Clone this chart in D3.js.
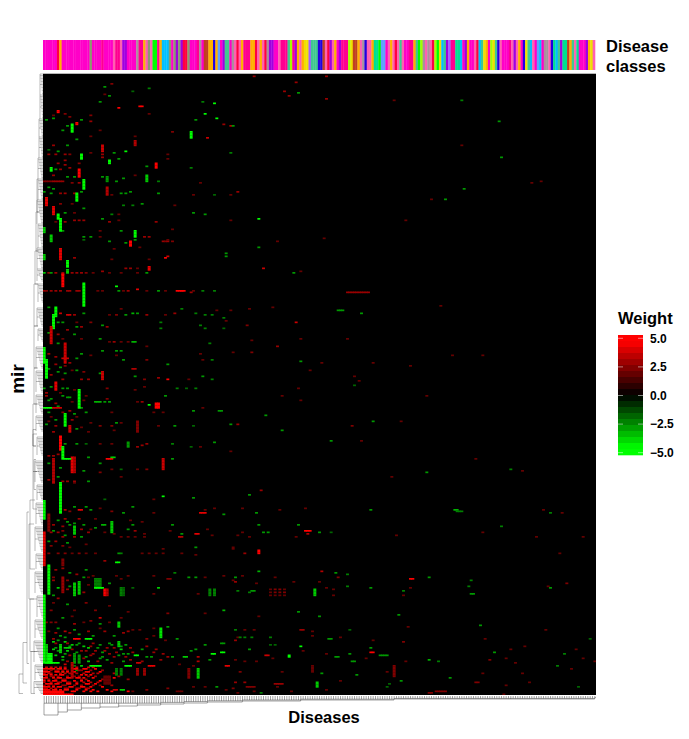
<!DOCTYPE html>
<html><head><meta charset="utf-8">
<script src="https://cdnjs.cloudflare.com/ajax/libs/d3/7.8.5/d3.min.js"></script>
<style>html,body{margin:0;padding:0;background:#fff}svg{display:block}text{font-family:"Liberation Sans",Arial,sans-serif;font-weight:700;fill:#000}</style>
</head><body><svg id="c" width="689" height="739"></svg>
<script>
// Disease class of each column, one letter per disease, read left to right
const classSequence = ("MMMMMMROMMMMMMMMMMMMDMMMMHMMMMKHHKPPMMMMAHHOKDKGGHOCCCDMDPDPRRDMMMHAMEEOOUOBMPTTMAKRKOHHHOORKOKRAPPMMKHHHTLHPOKOYYVTTTUUEKRPKOMPHHHLYEEOKAUKKOSSGBBMKOKRKTKMMHHO"+
 "TGLAKAKRLGYCTPVHHSSCMPOMMKRCTYOMLYTUKMMMHKPKOMUYTCKMBCMAAKUSCTPSSEOTKSMMMPOYK").split("");
const classNames = ["M","H","R","O","Y","L","G","T","S","C","B","U","P","V","K","A","D","E"];
const classColors = ["#ff00c8","#ff0090","#ff0040","#ffb000","#f0e000","#a0ff00","#00ff00","#40c890","#00e090","#00c0ff","#60a0ff","#2000e0","#a000e0","#a060ff","#ff60b0","#a8909c","#8a9a70","#c04020"];

const diseaseCount = 237, mirCount = 414;
const legendValues = [5, 2.5, 0, -2.5, -5];
const legendSteps = d3.range(20);

// Vertical runs: [disease, first mir, last mir, weight]
const verticalRuns = [[12,33,38,-5],[14,32,33,5],[63,38,42,-5],[39,44,47,3.5],[25,47,51,4],[16,53,56,-5],[28,57,59,-5],[48,59,62,5],[3,62,64,-5],[15,63,68,5],[27,68,71,-3],[44,67,71,-4],[17,70,76,-5],[27,75,80,3.5],[14,79,84,-5],[1,82,87,4.5],[4,88,93,4.5],[6,93,96,-5],[7,96,104,-5],[0,102,105,-4],[39,104,108,-5],[3,107,111,-4],[37,111,114,5],[7,116,123,4.5],[0,120,123,-4],[10,124,128,-5],[45,128,130,4.5],[10,130,132,-4],[8,133,141,5],[17,139,154,-5],[5,155,161,-5],[4,160,169,-5],[3,168,179,4],[0,182,192,-5],[9,179,192,4],[1,190,202,-5],[25,198,203,4],[5,205,210,4.5],[15,210,222,-5],[9,226,234,-5],[40,231,238,2.5],[11,234,238,4],[7,241,250,5],[36,245,248,-3],[8,248,256,-5],[12,255,265,4.5],[13,255,265,3.5],[4,256,272,3.5],[51,256,263,4],[7,272,292,-5],[0,284,296,-5],[0,305,327,4.5],[2,293,304,2.5],[2,327,346,-5],[0,347,392,-5],[1,380,392,-4],[29,298,305,-4],[13,301,306,-4],[8,323,327,2.5],[8,335,345,3],[13,339,347,-4],[15,338,346,-4],[22,336,342,-2.5],[23,336,342,-2.5],[24,336,342,-2.5],[26,343,347,5],[27,343,347,3.5],[33,342,347,-2.5],[34,342,347,-2],[71,343,347,-2.5],[73,343,347,-2.5],[32,365,368,-4],[50,369,375,-4.5],[7,380,385,-4],[32,378,381,-4],[13,386,392,-3],[15,387,392,-3],[2,386,392,-5],[3,386,392,-5],[12,392,402,3.5],[31,396,400,-2.5],[33,396,400,-2.5],[40,396,400,3],[43,396,400,3],[66,396,402,-4],[62,396,402,2.5],[26,401,406,2],[27,401,406,2],[28,401,406,2],[116,343,347,-4],[150,394,401,2.5],[115,394,398,2],[92,317,319,5],[105,387,388,-5],[117,405,408,-4],[48,219,222,5],[49,219,222,5]];

// Horizontal runs: [mir, first disease, last disease, weight]
const horizontalRuns = [[21,41,42,5],[160,10,11,4],[144,57,60,5],[178,38,39,-3.5],[189,8,10,4],[196,38,39,3.5],[218,22,24,-3.5],[222,0,3,-5],[222,4,7,4],[224,75,76,-3],[256,9,11,-5],[256,27,29,5],[255,29,30,-4],[290,15,16,4.5],[292,67,69,4.5],[300,25,26,-3.5],[306,65,66,4.5],[308,58,59,3.5],[325,31,32,-5],[336,53,54,2.5],[342,22,25,-5],[376,13,15,5],[376,18,20,-5],[379,76,77,-3],[385,76,77,-5],[386,72,73,-5],[387,39,40,-5],[382,9,11,-4],[388,60,61,-4],[392,1,6,-5],[394,20,24,-5],[394,35,37,-5],[394,45,47,4.5],[394,78,79,4.5],[304,112,114,5],[336,157,158,5],[290,176,177,-3.5],[346,183,184,-3],[370,110,111,3],[376,122,123,-3],[387,95,96,4],[387,144,147,-3],[385,140,141,5],[391,132,133,-3],[406,99,102,3],[405,185,186,2.5],[408,87,90,2.5],[412,165,166,2.5],[411,168,172,2.5],[412,0,8,5],[413,0,12,5],[410,30,31,4],[410,33,34,-4],[411,57,59,2],[145,130,139,3],[157,126,128,-3],[291,177,179,-2.5],[71,0,3,2.5],[71,4,8,3]];

// Isolated cells, upper left part: [disease, mir, weight]
const cellsUpperLeft = [[26,8,-3],[45,9,-2.5],[38,11,-2],[28,14,-3],[24,18,-3],[68,18,-2.5],[73,19,-5],[69,26,-5],[74,29,-5],[65,30,-3],[29,6,2.5],[26,13,2],[32,22,5],[45,26,2],[6,24,5],[6,25,5],[9,26,2.5],[11,28,2.5],[20,27,2.5],[20,31,3],[16,30,-3],[4,29,-3],[4,27,2],[1,30,-3],[8,37,-3],[10,34,-3],[77,33,3],[80,34,3.5],[81,34,-3],[55,38,2.5],[70,42,4],[24,37,2],[20,41,2],[14,43,-3],[39,41,2],[4,47,3],[10,47,-3],[2,50,-2],[6,51,-3],[25,53,3],[25,55,3],[35,51,-5],[30,52,-3],[32,56,-3],[2,53,3],[5,53,3],[9,53,3],[11,53,2.5],[20,52,2],[53,53,2],[53,56,2],[80,52,-2.5],[9,57,3],[6,59,3],[9,60,3],[15,59,2.5],[44,61,-3],[5,63,-3],[7,63,3],[11,62,3],[63,62,-2.5],[4,67,3],[10,68,-3],[13,68,-3],[25,68,-3],[39,67,2],[31,71,-3],[34,69,-3],[49,71,-2.5],[67,72,2],[15,72,3],[12,72,2.5],[2,75,-3],[4,76,-3],[0,78,-3],[3,79,-3],[7,79,3],[9,79,3],[13,79,3],[16,78,-3],[33,79,-3],[35,79,-3],[37,78,-3],[29,80,2],[49,79,-3],[64,80,2],[73,80,-2],[80,80,2],[83,78,3],[7,86,2.5],[12,86,2],[34,87,-2.5],[38,87,-2.5],[42,86,-3],[56,87,2],[17,89,-3],[9,92,-3],[13,92,2],[64,92,-3],[69,93,-3],[29,93,-2.5],[32,93,2],[5,98,2],[9,98,3],[13,97,3],[15,97,3],[17,97,3],[25,96,-3],[28,98,3],[32,97,2],[48,98,3],[80,97,2],[8,104,-3],[24,104,2],[33,104,-3],[55,103,2],[39,110,-3],[17,110,-2],[17,108,-3],[20,108,-3],[24,108,2],[43,108,3],[45,108,3],[28,111,-3],[35,112,-3],[51,111,3],[52,111,2.5],[53,111,3],[55,111,2.5],[53,110,2],[30,116,2],[41,115,2],[13,122,3],[52,122,5],[53,121,4],[78,121,-3],[29,123,2],[45,123,2],[35,129,3],[37,129,3],[40,129,2],[0,132,-4],[2,132,3],[3,132,-3],[5,132,3],[8,132,3],[12,132,3],[14,132,3],[16,132,3],[18,132,2.5],[21,132,2],[25,131,3],[28,132,2],[33,132,2],[40,132,2],[44,132,-3],[8,133,4]];

// Isolated cells, middle left part
const cellsMiddleLeft = [[31,141,-5],[40,143,4.5],[36,144,3],[0,144,3],[1,144,2.5],[3,144,3],[5,144,3],[7,144,3],[10,144,3],[11,144,3],[14,144,3],[15,144,3],[23,144,2],[25,144,2],[32,144,-3],[34,144,2],[44,144,2],[49,144,-3],[52,144,2],[64,144,2],[68,144,-2.5],[73,144,-2.5],[2,155,-3],[7,159,4],[13,160,3],[17,159,-3],[33,156,2],[28,160,2],[31,160,2.5],[35,160,-3],[38,159,-3.5],[40,159,-3],[44,160,3],[52,160,2],[56,159,3],[59,156,-2.5],[65,159,-2.5],[69,160,-2.5],[72,160,-2.5],[77,162,-2.5],[80,157,2],[6,165,-3],[8,165,-3],[14,165,2],[20,165,2.5],[67,167,-2.5],[50,165,-2.5],[14,168,-3],[16,168,3],[25,167,-3],[27,168,3],[50,169,-2.5],[69,169,-2.5],[77,169,-2],[24,176,-3],[28,178,2],[30,178,3],[33,178,2],[36,178,2],[44,181,2],[71,179,-2.5],[6,179,-3],[16,186,-3],[14,189,-3],[2,186,3],[5,188,3],[20,187,2],[25,184,-3],[31,184,-3],[33,184,-3],[31,187,2],[34,190,-3],[44,190,2.5],[67,186,2],[68,190,2],[72,190,-2.5],[81,185,2],[9,194,2.5],[6,198,-3],[9,199,-3],[14,197,-3],[17,198,2.5],[53,193,-3],[24,199,-3],[39,201,-3],[43,203,2.5],[49,202,3],[53,203,5],[62,203,2],[68,201,-3],[72,203,-2.5],[8,203,3],[16,203,3],[19,203,3],[3,208,-3],[0,209,-3],[8,209,-3],[10,209,-3],[13,210,2],[27,209,2.5],[39,210,2],[43,208,2],[65,209,-2.5],[61,209,-2],[57,209,-2.5],[1,214,3],[2,217,-3],[8,214,-3],[10,215,-3],[12,218,2],[18,214,2],[17,217,2],[27,216,2.5],[28,218,-3],[26,218,-3],[40,218,2],[42,218,3],[45,220,-5],[52,214,-3],[16,222,-3],[2,225,-3],[8,225,2.5],[11,224,3],[13,226,-3],[18,225,-3],[29,225,2],[47,225,2],[68,222,2],[64,224,-3],[51,225,2],[31,232,-3],[29,234,2.5],[24,234,2.5],[33,232,2],[5,234,3],[2,231,2],[16,235,2],[20,232,2],[56,234,-3],[49,234,2],[64,234,-2],[80,233,-3],[83,233,3],[30,237,2],[9,246,-3],[14,246,-3],[18,246,-2],[24,246,2],[29,246,2],[40,248,3],[44,246,3],[42,247,3],[55,246,-2.5],[63,248,-2],[67,248,2],[73,245,-3],[2,254,3],[4,254,3],[6,253,3],[19,255,-3],[24,259,-3],[55,256,-3],[24,265,2.5],[29,263,2],[33,263,-2],[40,263,2],[44,263,2.5],[17,264,-3],[2,259,-3],[7,262,-3],[8,271,3],[10,271,3],[13,271,3],[19,271,-3],[13,272,2],[6,268,-3],[33,268,2],[2,270,3],[1,212,3],[3,216,-3],[5,219,3],[7,212,2],[11,215,-3],[6,221,-3],[3,228,2],[5,230,-3],[12,230,3],[14,228,2],[1,233,-3],[4,238,3],[14,236,-3],[19,238,2],[2,196,-3],[5,193,3],[3,200,3],[7,195,-3],[11,192,3],[12,197,2],[2,172,-3],[6,173,3],[8,176,2],[10,170,3],[13,173,-3],[16,176,2]];

// Isolated cells, lower left part
const cellsLowerLeft = [[51,281,-5],[64,282,-3],[47,283,2],[26,283,-2],[9,290,3.5],[13,288,-3],[18,288,-3],[11,291,2.5],[20,290,-3],[24,289,2],[29,291,2.5],[34,292,-3],[38,288,-3],[47,292,2],[73,289,2],[69,290,2],[77,293,-3],[9,296,3],[22,296,2],[37,297,2],[4,304,-3],[8,304,2.5],[11,300,-3],[13,299,-3],[38,300,-3],[16,303,3],[20,303,2],[26,305,2],[30,306,2],[43,306,2],[55,300,-3],[59,306,-3],[54,304,2],[70,303,2],[72,307,2],[43,308,2],[33,308,2],[36,308,2],[39,308,2],[3,305,3],[6,305,3],[9,307,-3],[16,308,-3],[13,308,3],[2,311,-3],[8,314,2.5],[11,315,2],[65,315,-3],[51,316,2],[81,315,2],[2,319,2.5],[6,319,2.5],[9,319,2.5],[12,319,2],[15,319,2.5],[18,319,2],[22,319,2],[32,319,-3],[33,319,-2.5],[42,319,2],[45,319,2],[48,319,2],[51,319,2],[59,319,2],[65,320,2],[26,324,3],[56,332,-2.5],[47,334,2],[62,335,-3],[65,335,-3],[69,335,2],[81,337,2],[77,334,2],[4,335,2.5],[4,337,3],[10,337,2.5],[17,335,-3],[19,335,2],[38,342,-2],[49,342,-4],[47,346,2],[66,346,2],[4,347,-3],[33,336,2],[28,339,-3],[31,334,2],[36,334,2],[77,357,-3.5],[53,359,2.5],[24,362,4],[12,361,2],[69,359,2],[1,365,2.5],[3,365,2.5],[17,365,2],[28,365,2],[53,368,-3],[47,369,2],[41,370,2],[6,369,-3],[24,369,2],[38,370,2],[47,374,2],[2,371,2],[9,371,3.5],[83,375,2],[9,375,-3],[4,376,3],[57,376,-3],[44,376,2.5],[52,377,2],[11,381,-3],[14,380,-3],[33,381,-3],[24,380,-3],[28,379,-3],[30,382,3],[35,380,-3],[69,380,-3],[63,384,-3],[65,383,-3],[20,381,3],[22,384,3],[16,384,3],[26,384,3],[28,386,3],[32,387,-3],[35,388,3],[36,386,-3],[47,385,3],[51,386,3],[53,388,3],[55,388,-3],[66,388,3.5],[66,391,3.5],[71,390,-3],[5,382,-3],[6,384,-3],[9,386,-3],[16,394,-4],[9,393,4],[40,392,4],[41,392,4],[64,394,2],[58,393,2],[13,394,-2.5],[8,398,-3],[14,397,-3],[8,390,-3],[10,391,3],[18,388,-3],[20,387,3],[24,389,-3],[24,407,2.5],[44,410,2.5],[53,409,2.5],[64,408,2],[69,408,2],[74,408,-3],[78,410,2],[81,409,2.5],[38,411,2]];

// More cells of the crowded zone just above the red block
const cellsCrowded = [[4,378,-4],[5,379,3],[6,377,-3],[9,378,-4],[10,379,3],[12,380,-4],[12,383,3],[15,379,-3],[17,381,-4],[18,384,3],[19,382,-4],[21,379,3],[23,382,-3],[25,385,-3],[27,382,3],[29,380,-3],[31,385,3],[33,383,-4],[34,386,-3],[37,382,3],[38,385,3],[42,383,-3],[44,381,3],[46,388,-3],[48,383,3],[4,383,-4],[5,387,-4],[8,388,-4],[10,384,-4],[11,387,3],[14,385,-3],[17,389,3],[19,391,-4],[21,386,3],[23,391,3],[25,388,-3],[27,390,-3],[29,392,3],[30,388,3],[34,391,-3],[37,390,3],[42,391,3],[44,388,-3],[50,390,3],[5,372,3],[7,374,-3],[11,372,3],[13,370,-3],[15,373,-3],[19,371,3],[21,374,-3],[26,371,3],[30,374,-3],[34,372,3],[5,365,2.5],[8,362,-3],[13,366,3],[20,364,2.5],[24,366,-3],[33,362,2],[36,371,3],[4,352,2],[6,349,3],[10,353,-3],[13,357,2],[18,352,2.5],[3,357,2.5],[22,357,2.5],[28,354,2],[36,358,2],[5,330,3],[11,332,-3],[14,333,3],[8,329,3],[18,330,-3],[21,334,2],[6,342,-4],[10,343,3],[11,341,-3],[17,345,3],[19,340,2],[4,300,3],[6,297,-3],[8,301,3],[10,298,-3],[15,296,3],[17,300,-3],[19,305,3],[22,302,-3],[5,311,3],[8,308,3],[3,314,2.5],[10,312,-3],[18,313,2],[36,303,-3],[39,304,3],[42,298,2]];

// Dense red rows at the bottom left: [mir, weight, diseases...]
const denseRows = [[395,4,1,3,5,7,9,14,19,21],[396,5,0,1,2,3,4,6,7,9,13,14,17,18,22],[397,3,0,1,3,5,6,8,10,15,16,20,25],[398,5,0,1,2,5,6,8,10,13,18,19,24],[399,3.5,0,2,3,7,9,11,14,17,21,23,30],[400,5,0,1,3,5,7,8,16,18,20],[401,3,1,3,4,6,10,13,15,19,22,32],[402,5,0,1,4,6,7,10,11,14,15,17,21,30],[403,3,0,2,5,8,9,16,18,25,36],[404,5,0,2,4,5,8,9,13,16,19,24],[405,3.5,0,3,6,7,10,11,14,17,20,23],[406,5,1,2,3,5,6,10,11,14,18,19,22],[407,3,0,2,4,8,9,13,16,21,29],[408,5,0,1,2,4,6,7,11,12,16,17,20,25],[409,3.5,0,1,3,5,9,10,14,15,18,19],[410,5,0,1,2,4,5,7,9,10,14,18,21,27],[411,5,0,1,2,3,4,5,6,7,8,12,13,17,20,23,29,36]];

// Isolated cells, right part of the picture
const cellsRight = [[90,1,3],[121,1,3],[108,5,3],[109,12,-3],[150,17,2],[179,17,-2.5],[121,16,3],[103,11,3],[105,14,3],[195,31,-3],[179,47,2],[196,55,-3],[209,72,2],[213,71,2],[180,76,-3],[155,97,2],[172,83,-3],[166,83,2],[92,96,-5],[120,109,2],[92,115,-3],[100,111,2],[78,119,-3],[94,129,4],[110,131,2],[107,132,-3],[59,144,3],[63,145,3],[136,159,-3],[88,156,2],[98,155,2],[74,157,2],[108,165,4],[78,164,2],[87,167,2.5],[110,176,2],[130,176,2],[141,192,2],[133,201,2],[133,207,-2],[135,204,2],[114,197,2],[119,192,2],[109,209,2],[153,231,2],[132,234,2.5],[141,231,-3],[175,187,2],[188,187,2],[170,154,2],[95,227,-3],[185,256,2],[200,263,-2.5],[205,264,2],[164,265,-3],[149,268,2],[157,194,2],[102,237,-3],[80,251,2],[110,217,2],[123,244,-3],[136,244,2],[164,214,2],[110,191,-3],[89,185,2.5],[100,181,3],[89,177,2],[102,214,2],[88,280,-3],[93,277,3],[85,289,2],[91,292,-3],[101,290,2],[112,289,2],[140,290,-3],[214,290,2],[217,292,-2.5],[222,292,2],[92,300,-3],[109,300,-3],[196,301,-2.5],[113,306,3.5],[118,305,-3],[123,305,-2],[94,305,-3],[96,305,-3],[83,307,2],[85,305,2],[88,308,2],[108,308,2],[151,307,2],[188,305,2],[211,308,2],[231,308,2],[81,316,2],[86,319,3],[221,319,2],[92,331,-3.5],[119,331,3.5],[125,332,-3],[130,333,-2.5],[126,335,2.5],[99,335,2],[85,334,2],[82,335,-3],[82,338,3],[91,339,2],[107,338,2],[118,338,2],[165,335,-3],[183,337,-2.5],[182,341,-2.5],[224,339,2.5],[216,341,2],[217,342,-3],[140,342,-3],[130,341,-2.5],[157,342,2],[154,344,-2.5],[154,347,2],[89,344,-3],[90,344,-3],[88,345,-2.5],[83,344,-2.5],[97,343,2],[99,343,2.5],[101,343,2.5],[103,343,2],[97,345,2],[99,345,2.5],[101,345,2.5],[103,345,2.5],[97,347,2],[99,347,2],[101,347,2],[103,347,2],[121,342,2],[124,343,2],[124,347,2],[109,358,-3],[152,360,-3],[118,361,-3],[92,361,2],[187,367,-3],[156,368,2],[82,370,-2.5],[86,370,2],[90,370,2],[131,370,-2],[115,371,2],[115,374,2],[215,370,2],[127,375,2],[84,375,-2.5],[86,375,-2.5],[89,375,-2.5],[97,375,-2.5],[82,377,3],[141,377,2],[154,378,2.5],[189,376,2],[234,376,-2],[88,383,-3],[110,381,-5],[111,384,2],[97,380,-2],[99,380,-2],[140,382,-3],[206,381,2],[200,383,2],[228,383,2],[98,389,2],[121,386,2],[125,388,-3],[126,388,-3],[131,386,-3],[193,385,-3],[223,386,-2.5],[138,389,2],[165,390,-3.5],[169,391,-2.5],[155,391,2],[198,389,2],[191,390,2.5],[202,392,2],[220,394,-2.5],[231,389,2],[236,391,2],[226,396,2],[82,390,2],[86,391,2],[91,391,2],[84,398,2.5],[102,398,2],[147,398,2],[134,400,-3],[119,399,-3],[174,402,-3],[188,399,2],[205,399,2],[153,404,-3],[82,405,3],[86,405,3],[127,404,2],[198,407,2],[208,405,2],[100,408,2],[148,406,-2],[147,408,-2],[229,408,-2],[106,411,2],[121,410,2],[93,412,-2.5],[90,411,2],[197,413,2],[83,412,2]];

// Left tree: low clades [first mir, last mir, height], then joining brackets [first mir, last mir, height, child height]
const mirClades = [[0,14,3],[14,30,3],[30,42,4],[42,56,4],[56,70,5],[70,84,5],[84,100,6],[100,116,5],[116,130,6],[130,138,6],[140,152,5],[156,168,6],[170,178,5],[182,196,7],[198,212,7],[214,226,7],[228,238,7],[242,254,6],[258,272,8],[274,284,6],[286,300,7],[302,318,8],[320,330,7],[332,346,8],[348,362,6],[364,376,8],[378,392,9],[394,404,8],[405,413,9]];
const mirBrackets = [[70,92,6,5],[92,118,7,4],[118,140,8,5],[140,168,9,5],[168,196,9,5],[196,220,9,6],[220,248,10,7],[240,265,10,6],[265,290,10,6],[257,277,9,7],[237,248,10,7],[284,330,13,8],[300,350,14,9],[350,385,13,6],[385,413,12,8],[292,393,16,14],[379,406,20,16],[400,413,24,20]];

// Bottom tree: [first disease, height]
const diseaseTreeStops = [[0,19],[6,16],[10,14],[16,12],[24,11],[32,10],[40,9],[50,8],[60,7],[70,6],[85,5],[110,4],[150,3],[200,3],[236,2]];

const svg = d3.select("#c");
const x = d3.scaleBand().domain(d3.range(diseaseCount)).range([43, 596]);
const y = d3.scaleBand().domain(d3.range(mirCount)).range([74, 695]);
const weight = d3.scaleLinear().domain([-5, 0, 5]).range(["#00ff00", "#000000", "#ff0000"]);
const classColor = d3.scaleOrdinal(classNames, classColors);
const strip = d3.scaleBand().domain(d3.range(classSequence.length)).range([43, 595]);
const treeH = d3.scaleLinear().domain([0, 33]).range([43, 10]);
const treeV = d3.scaleLinear().domain([0, 20]).range([696, 716]);

const blur = svg.append("defs").append("filter").attr("id", "soft").attr("filterUnits", "userSpaceOnUse")
  .attr("x", 43).attr("y", 74).attr("width", 553).attr("height", 621);
blur.append("feGaussianBlur").attr("stdDeviation", "0.4 0.3");

// class strip
svg.append("g").selectAll("rect").data(classSequence).join("rect")
  .attr("x", (d, i) => strip(i)).attr("y", 40).attr("width", strip.bandwidth() + .3).attr("height", 30)
  .attr("fill", d => classColor(d));

// heat map
svg.append("rect").attr("x", 43).attr("y", 73).attr("width", 553).attr("height", .7).attr("fill", "#999");
svg.append("rect").attr("x", 43).attr("y", 74).attr("width", 553).attr("height", 621).attr("fill", "#000");
const cells = [];
cells.push(...cellsUpperLeft, ...cellsMiddleLeft, ...cellsLowerLeft, ...cellsCrowded, ...cellsRight);
denseRows.forEach(([r, w, ...cs]) => cs.forEach(c => cells.push([c, r, w])));
verticalRuns.forEach(([c, a, b, w]) => d3.range(a, b + 1).forEach(r => cells.push([c, r, w])));
horizontalRuns.forEach(([r, a, b, w]) => d3.range(a, b + 1).forEach(c => cells.push([c, r, w])));
svg.append("g").attr("filter", "url(#soft)").selectAll("rect").data(cells).join("rect")
  .attr("x", d => x(d[0]) - .3).attr("y", d => y(d[1]))
  .attr("width", x.bandwidth() + .6).attr("height", y.bandwidth() + .2)
  .attr("fill", d => weight(d[2]));

// left tree
const leftTree = d3.path();
mirClades.forEach(([a, b, h]) => {
  const top = y(a), bot = y(b);
  leftTree.moveTo(treeH(h), top); leftTree.lineTo(treeH(h), bot);
  d3.range(a, b + 1).forEach(r => {
    const k = (r - a) / (b - a || 1);
    leftTree.moveTo(43, y(r));
    leftTree.lineTo(treeH(h * (1 - k * .75)), y(r));
  });
  leftTree.moveTo(treeH(h * .5), (top + bot) / 2); leftTree.lineTo(treeH(h), (top + bot) / 2);
});
mirBrackets.forEach(([a, b, h, h0]) => {
  leftTree.moveTo(treeH(h0), y(a)); leftTree.lineTo(treeH(h), y(a));
  leftTree.lineTo(treeH(h), y(b)); leftTree.lineTo(treeH(h0), y(b));
});
svg.append("path").attr("d", leftTree.toString()).attr("fill", "none").attr("stroke", "#666").attr("stroke-width", .45);

// bottom tree
const bottomTree = d3.path();
const depthAt = c => { let d = 2; diseaseTreeStops.forEach(s => { if (c >= s[0]) d = s[1]; }); return d; };
d3.range(diseaseCount).forEach(c => {
  const d = depthAt(c), px = x(c) + x.bandwidth() / 2;
  bottomTree.moveTo(px, treeV(0)); bottomTree.lineTo(px, treeV(Math.min(d, 9) * .8));
});
diseaseTreeStops.forEach((s, i) => {
  const next = diseaseTreeStops[i + 1];
  const a = x(s[0]) + 1, b = next ? x(next[0]) + 1 : 596;
  bottomTree.moveTo(a, treeV(Math.min(s[1], 9) * .8)); bottomTree.lineTo(b, treeV(Math.min(s[1], 9) * .8));
  bottomTree.moveTo(a, treeV(Math.min(s[1], 9) * .8)); bottomTree.lineTo(a, treeV(s[1]));
  if (next) { bottomTree.moveTo(a, treeV(s[1])); bottomTree.lineTo(b, treeV(s[1])); bottomTree.moveTo(b, treeV(s[1])); bottomTree.lineTo(b, treeV(next[1])); }
});
svg.append("path").attr("d", bottomTree.toString()).attr("fill", "none").attr("stroke", "#444").attr("stroke-width", .5);

// legend
const legY = d3.scaleLinear().domain([-5, 5]).range([452.7, 338.3]);
const legBand = d3.scaleBand().domain(legendSteps).range([335, 455]);
const legendWeight = d3.scaleLinear().domain([0, legendSteps.length - 1]).range([5.4, -5.4]);
svg.append("g").selectAll("rect").data(legendSteps).join("rect")
  .attr("x", 618).attr("y", d => legBand(d)).attr("width", 25).attr("height", legBand.bandwidth() + .3)
  .attr("fill", d => weight(legendWeight(d)));
legendValues.forEach(v => {
  [[618, 623], [638, 643]].forEach(([a, b]) => svg.append("line").attr("x1", a).attr("x2", b)
    .attr("y1", legY(v)).attr("y2", legY(v)).attr("stroke", "#fff").attr("stroke-width", .5));
  svg.append("text").attr("x", 650).attr("y", legY(v)).attr("dy", "0.36em").attr("font-size", 12)
    .text(d3.format(".1f")(v).replace("-", "\u2212"));
});
const label = (t, px, py, size, anchor) => svg.append("text").attr("x", px).attr("y", py).attr("font-size", size).attr("text-anchor", anchor || "start").text(t);
label("Weight", 618, 324, 16.5);
label("Disease", 606, 52, 16.5);
label("classes", 606, 72, 16.5);
label("Diseases", 324, 723, 16.5, "middle");
svg.append("text").attr("transform", "translate(24,379) rotate(-90)").attr("text-anchor", "middle").attr("font-size", 19).text("mir");
</script></body></html>
